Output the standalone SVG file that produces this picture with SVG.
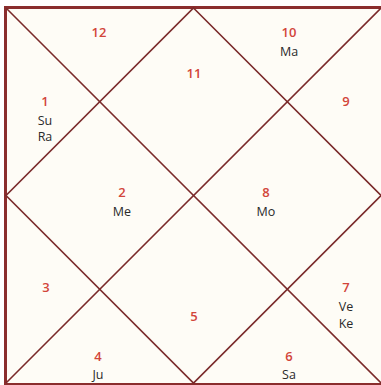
<svg xmlns="http://www.w3.org/2000/svg" width="381" height="385" viewBox="0 0 381 385">
<style>
.ln{stroke:#7a2a2a;stroke-width:1.6;fill:none}
.num{font-family:"Open Sans","Noto Sans",sans-serif;font-size:13px;font-weight:600;fill:#d2453a;text-anchor:middle}
.pl{font-family:"Open Sans","Noto Sans",sans-serif;font-size:12.5px;fill:#2a2a2a;text-anchor:middle}
</style>
<rect x="0" y="0" width="381" height="385" fill="#ffffff"/>
<rect id="frame" x="5.5" y="7.5" width="377.5" height="377" fill="#fefcf6" stroke="#8a2d2d" stroke-width="3"/>
<g id="connectors">
<line class="ln" x1="6" y1="8" x2="381" y2="383"/>
<line class="ln" x1="381" y1="8" x2="6" y2="383"/>
<polygon class="ln" points="193.5,8 381,195.5 193.5,383 6,195.5"/>
</g>
<g id="h1"><text class="num" x="45" y="106">1</text><text class="pl" x="45" y="125">Su</text><text class="pl" x="45" y="141">Ra</text></g>
<g id="h2"><text class="num" x="122" y="197">2</text><text class="pl" x="122" y="216">Me</text></g>
<g id="h3"><text class="num" x="46" y="292">3</text></g>
<g id="h4"><text class="num" x="98" y="361">4</text><text class="pl" x="98" y="379">Ju</text></g>
<g id="h5"><text class="num" x="194" y="321">5</text></g>
<g id="h6"><text class="num" x="289" y="361">6</text><text class="pl" x="289" y="379">Sa</text></g>
<g id="h7"><text class="num" x="346" y="292">7</text><text class="pl" x="346" y="311">Ve</text><text class="pl" x="346" y="328">Ke</text></g>
<g id="h8"><text class="num" x="266" y="197">8</text><text class="pl" x="266" y="216">Mo</text></g>
<g id="h9"><text class="num" x="346" y="106">9</text></g>
<g id="h10"><text class="num" x="289" y="37">10</text><text class="pl" x="289" y="56">Ma</text></g>
<g id="h11"><text class="num" x="194" y="78">11</text></g>
<g id="h12"><text class="num" x="99" y="37">12</text></g>
</svg>
